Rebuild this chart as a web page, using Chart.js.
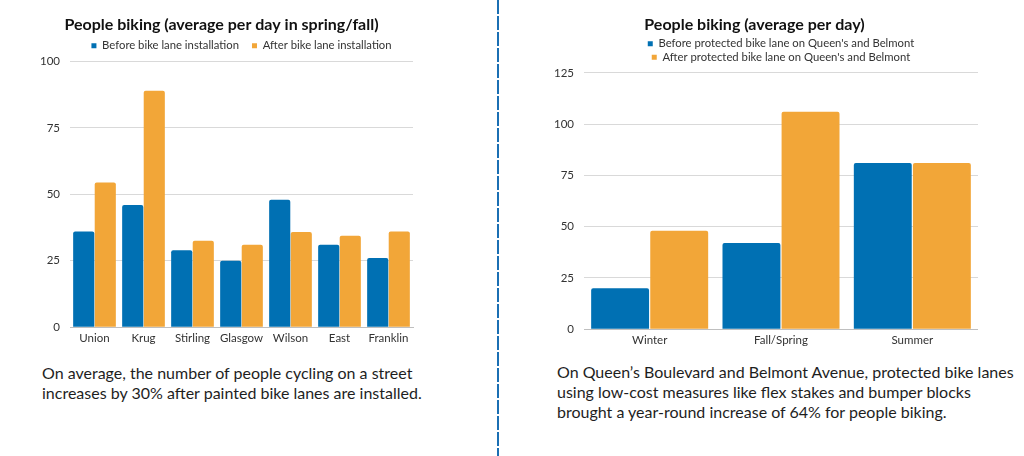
<!DOCTYPE html>
<html>
<head>
<meta charset="utf-8">
<script src="https://cdn.jsdelivr.net/npm/chart.js@4.4.0/dist/chart.umd.min.js"></script>
<style>
  body { margin: 0; width: 1024px; height: 456px; background: #fff; position: relative; overflow: hidden; font-family: Lato, sans-serif; }
  .box { position: absolute; }
  .caption { position: absolute; font-size: 16px; line-height: 20px; color: #1e1e1e; }
  #divider { position: absolute; left: 497px; top: 0; width: 2px; height: 456px;
    background: repeating-linear-gradient(to bottom, #1b6fb3 0px, #1b6fb3 14px, transparent 14px, transparent 16px); }
</style>
</head>
<body>
<div class="box" style="left:30px; top:0; width:390px; height:350px;"><canvas id="streets"></canvas></div>
<div class="box" style="left:531px; top:0; width:447px; height:352px;"><canvas id="seasons"></canvas></div>
<div id="divider"></div>
<div class="caption" style="left:42px; top:363px;">On average, the number of people cycling on a street<br>increases by 30% after painted bike lanes are installed.</div>
<div class="caption" style="left:557px; top:362px;">On Queen’s Boulevard and Belmont Avenue, protected bike lanes<br>using low-cost measures like flex stakes and bumper blocks<br>brought a year-round increase of 64% for people biking.</div>
<script>
var BLUE = '#0070b3';
var ORANGE = '#f2a638';

// left chart
var STREETS = ['Union', 'Krug', 'Stirling', 'Glasgow', 'Wilson', 'East', 'Franklin'];
var STREETS_BEFORE = [36, 46, 29, 25, 48, 31, 26];
var STREETS_AFTER = [54.5, 89, 32.5, 31, 35.8, 34.4, 36];

// right chart
var SEASONS = ['Winter', 'Fall/Spring', 'Summer'];
var SEASONS_BEFORE = [20, 42, 81];
var SEASONS_AFTER = [48, 106, 81];

Chart.defaults.font.family = 'Lato, sans-serif';
Chart.defaults.color = '#404040';
Chart.defaults.animation = false;

function makeChart(id, opts) {
    return new Chart(document.getElementById(id), {
        type: 'bar',
        data: {
            labels: opts.labels,
            datasets: [{
                label: opts.names[0],
                data: opts.before,
                backgroundColor: BLUE,
                borderRadius: 2,
                categoryPercentage: opts.cat,
                barPercentage: 0.98
            }, {
                label: opts.names[1],
                data: opts.after,
                backgroundColor: ORANGE,
                borderRadius: 2,
                categoryPercentage: opts.cat,
                barPercentage: 0.98
            }]
        },
        options: {
            responsive: true,
            maintainAspectRatio: false,
            layout: { padding: { left: 0, right: opts.padRight, top: 0, bottom: 0 } },
            plugins: {
                tooltip: { enabled: false },
                title: {
                    display: true,
                    text: opts.title,
                    color: '#111',
                    font: { size: 16, weight: 'bold' },
                    padding: { top: 15, bottom: opts.titleGap }
                },
                legend: {
                    fullSize: false,
                    labels: {
                        usePointStyle: true,
                        pointStyle: 'rect',
                        boxWidth: 5,
                        boxHeight: 5,
                        padding: opts.legendPad,
                        color: '#333',
                        font: { size: 11.3 }
                    }
                }
            },
            scales: {
                x: {
                    grid: { display: false, drawTicks: false },
                    border: { color: '#bfbfbf' },
                    ticks: { color: '#333', font: { size: 11.5 }, padding: 4.5, maxRotation: 0, minRotation: 0, autoSkip: false }
                },
                y: {
                    min: 0,
                    max: opts.max,
                    ticks: { stepSize: 25, color: '#333', font: { size: 11.5 }, padding: 10 },
                    grid: { color: '#d9d9d9', drawTicks: false },
                    border: { display: false },
                    afterFit: function(scale) { scale.width = opts.yWidth; }
                }
            }
        }
    });
}

makeChart('streets', {
    labels: STREETS,
    before: STREETS_BEFORE,
    after: STREETS_AFTER,
    names: ['Before bike lane installation', 'After bike lane installation'],
    title: 'People biking (average per day in spring/fall)',
    max: 100,
    cat: 0.88,
    yWidth: 40,
    padRight: 7,
    legendPad: 13,
    titleGap: -7
});

makeChart('seasons', {
    labels: SEASONS,
    before: SEASONS_BEFORE,
    after: SEASONS_AFTER,
    names: ["Before protected bike lane on Queen's and Belmont", "After protected bike lane on Queen's and Belmont"],
    title: 'People biking (average per day)',
    max: 125,
    cat: 0.9,
    yWidth: 53,
    padRight: 0,
    legendPad: 2,
    titleGap: 2
});
</script>
</body>
</html>
